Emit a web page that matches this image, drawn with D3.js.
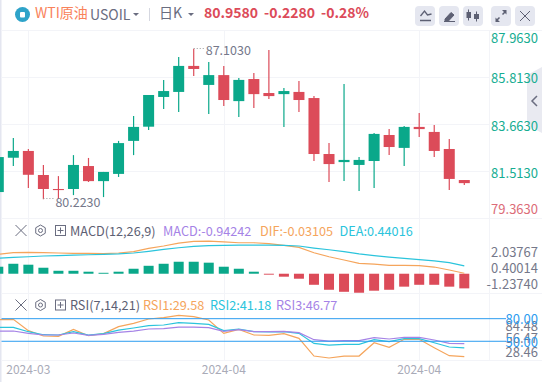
<!DOCTYPE html>
<html><head><meta charset="utf-8">
<style>html,body{margin:0;padding:0;background:#fff;overflow:hidden}svg{display:block}text{font-family:"Noto Sans CJK SC","Open Sans",sans-serif}</style>
<script src="https://cdn.jsdelivr.net/npm/d3@7/dist/d3.min.js"></script>
</head><body><svg id="c" width="542" height="382"></svg>
<script>
// Candles: open, close, high, low
const opens =[80.55,82.12,82.43,81.33,80.69,80.69,81.74,81.05,81.38,82.89,83.54,84.90,85.13,86.32,85.45,85.90,84.71,85.72,85.08,85.03,85.13,84.85,82.29,81.92,81.79,81.97,83.16,82.57,83.53,83.30,82.52,81.10];
const closes=[82.15,82.43,81.34,80.69,80.64,81.79,81.05,81.47,82.79,83.53,84.99,85.17,86.32,86.18,85.90,84.76,85.68,85.03,84.94,85.17,84.76,82.29,81.83,82.02,82.02,83.21,82.61,83.53,83.43,82.43,81.15,80.958];
const highs =[82.15,83.02,82.52,81.79,81.28,82.24,82.11,81.47,82.89,84.03,84.99,85.68,86.73,87.103,86.50,86.32,85.77,85.996,87.05,85.31,85.63,84.94,82.79,85.49,82.15,83.25,83.43,83.57,84.17,83.62,82.98,81.10];
const lows  =[80.55,81.74,80.74,80.223,80.23,80.41,81.01,80.32,81.24,82.24,83.39,84.35,84.21,85.86,84.12,84.49,83.98,84.39,84.81,83.53,84.21,81.97,81.01,81.05,80.60,80.74,82.24,81.74,83.07,82.15,80.64,80.87];
const macdBars=[0.45,0.64,0.58,0.385,0.19,0.19,0.13,0.06,0.13,0.32,0.51,0.64,0.77,0.77,0.71,0.45,0.32,0.13,-0.06,-0.19,-0.32,-0.71,-1.03,-1.16,-1.22,-1.09,-1.03,-0.83,-0.71,-0.71,-0.83,-0.94];
const dif=[1.24,1.35,1.37,1.35,1.33,1.31,1.31,1.29,1.33,1.42,1.63,1.78,1.97,2.08,2.10,2.04,1.99,1.99,1.93,1.82,1.69,1.35,1.09,0.88,0.67,0.62,0.54,0.54,0.52,0.43,0.24,0.03];
const dea=[0.99,1.05,1.09,1.14,1.16,1.20,1.22,1.24,1.27,1.33,1.44,1.56,1.67,1.76,1.80,1.82,1.84,1.84,1.84,1.82,1.78,1.65,1.54,1.42,1.27,1.16,1.07,0.99,0.90,0.82,0.71,0.50];
const rsi1=[78.7,79.1,64.1,57.0,56.5,65.8,57.4,60.1,69.4,73.8,79.6,81.3,84.4,82.7,78.2,60.5,65.8,58.3,57.9,60.1,53.9,30.4,27.8,30.4,30.4,48.1,41.9,52.6,52.6,41.5,30.9,29.58];
const rsi2=[68.5,68.5,62.7,58.7,58.3,62.7,58.3,60.1,64.9,67.6,70.7,71.6,74.7,73.8,72.5,64.1,66.3,62.7,62.3,62.7,60.5,47.2,45.0,45.9,45.9,52.1,49.5,53.4,53.4,48.1,42.4,41.18];
const rsi3=[63.6,63.6,60.5,58.3,58.3,61.0,57.9,59.2,61.8,63.6,66.3,66.7,68.9,68.9,68.0,63.2,65.4,62.7,62.7,63.2,61.4,52.1,50.3,50.8,50.8,54.8,53.0,55.2,55.2,51.7,47.2,46.77];
const priceTicks=[87.963,85.813,83.663,81.513,79.363];
const macdTicks=[2.03767,0.40014,-1.2374];
const rsiTicks=[84.48,56.47,28.46];
const rsiLevels=[80,50];
const dateTicks=[[2,"2024-03"],[15,"2024-04"],[28,"2024-04"]];

const GREEN="#0aa88a",RED="#dc4b59",GRID="#f3f4f8",ORANGE="#f5a55c",CYAN="#2bc4dc",PURPLE="#a583e6",BLUE="#2c9cf0";
const svg=d3.select("#c");
const n=opens.length;
const x=i=>d3.scaleLinear().domain([0,n-1]).range([-1.7,464.3])(i);
const yP=d3.scaleLinear().domain([87.963,79.363]).range([30,218]);
const yM=d3.scaleLinear().domain([2.03767,-1.2374]).range([242,293]);
const yR=d3.scaleLinear().domain([84.48,28.46]).range([315.3,357.5]);
const bw=11;

// frame and grid
svg.append("rect").attr("x",0).attr("y",0).attr("width",1.5).attr("height",382).attr("fill","#e4e6f0");
const hl=[30,77,124,171,218,293,360];
svg.selectAll(".h").data(hl).join("line").attr("x1",1.5).attr("x2",d=>d==30||d==218||d==293||d==360?542:489.5).attr("y1",d=>d+.5).attr("y2",d=>d+.5).attr("stroke",GRID);
svg.selectAll(".v").data(dateTicks).join("line").attr("x1",d=>Math.round(x(d[0]))+.5).attr("x2",d=>Math.round(x(d[0]))+.5).attr("y1",30).attr("y2",360).attr("stroke",GRID);
svg.append("line").attr("x1",489.5).attr("x2",489.5).attr("y1",30).attr("y2",360).attr("stroke",GRID);

// side tab (behind the axis labels)
svg.append("path").attr("d","M542 67L527 75V125L542 133z").attr("fill","#e9eaf1");
svg.append("path").attr("d","M537 96l-5 5 5 5").attr("fill","none").attr("stroke","#6a6d80").attr("stroke-width",1.5);

// candles
const g=svg.append("g");
const col=i=>closes[i]>=opens[i]?GREEN:RED;
g.selectAll(".w").data(d3.range(n)).join("line").attr("x1",i=>x(i)).attr("x2",i=>x(i)).attr("y1",i=>yP(highs[i])).attr("y2",i=>yP(lows[i])).attr("stroke",col).attr("stroke-width",1.2);
g.selectAll(".b").data(d3.range(n)).join("rect").attr("x",i=>x(i)-bw/2).attr("width",bw).attr("y",i=>yP(Math.max(opens[i],closes[i]))).attr("height",i=>Math.max(1,Math.abs(yP(opens[i])-yP(closes[i])))).attr("fill",col);
// hi/lo annotations
const TXT="#75788a";
const ann=(i,v,dy)=>{const y0=Math.round(yP(v))+.5;
 svg.append("line").attr("x1",x(i)).attr("x2",x(i)+10).attr("y1",y0-1).attr("y2",y0-1).attr("stroke","#999").attr("stroke-dasharray","1,2");
 svg.append("text").attr("x",x(i)+12).attr("y",y0+dy).attr("font-size",12.5).attr("fill",TXT).text(v.toFixed(4));};
ann(13,87.103,5.5);ann(3,80.223,7.5);

// MACD
g.selectAll(".m").data(macdBars).join("rect").attr("x",(d,i)=>x(i)-5).attr("width",10).attr("y",d=>yM(Math.max(0,d))).attr("height",d=>Math.abs(yM(d)-yM(0))).attr("fill",d=>d>=0?GREEN:RED);
const lineOf=(y)=>d3.line().x((d,i)=>x(i)).y(d=>y(d)).curve(d3.curveLinear);
[[dif,ORANGE],[dea,CYAN]].forEach(([a,c])=>svg.append("path").attr("d",lineOf(yM)(a)).attr("fill","none").attr("stroke",c).attr("stroke-width",1.2));

// RSI
[[rsi1,ORANGE],[rsi2,CYAN],[rsi3,PURPLE]].forEach(([a,c])=>svg.append("path").attr("d",lineOf(yR)(a)).attr("fill","none").attr("stroke",c).attr("stroke-width",1.2));
rsiLevels.forEach(v=>svg.append("line").attr("x1",1.5).attr("x2",506).attr("y1",yR(v)).attr("y2",yR(v)).attr("stroke",BLUE).attr("stroke-width",1));

// right labels
const rl=(t,y,c)=>svg.append("text").attr("x",538).attr("y",y).attr("text-anchor","end").attr("font-size",13).attr("dominant-baseline","middle").attr("fill",c).text(t);
const pOff=[9.5,2.5,3.5,3,-7.5];
priceTicks.forEach((v,i)=>rl(v.toFixed(4),yP(v)+pOff[i],i==4?"#dc6c78":"#16ad92"));
const mOff=[11.7,1.7,-7.3];
macdTicks.forEach((v,i)=>rl(v.toFixed(5),yM(v)+mOff[i],TXT));
const rOff=[12.4,3.3,-4.5];
rsiTicks.forEach((v,i)=>rl(v.toFixed(2),yR(v)+rOff[i],TXT));
rsiLevels.forEach(v=>rl(v.toFixed(2),yR(v)+2,BLUE));
// date labels
svg.selectAll(".d").data(dateTicks).join("text").attr("x",d=>x(d[0])).attr("y",374).attr("text-anchor","middle").attr("font-size",12).attr("fill","#a9abb8").text(d=>d[1]);

// header
const t=(s,px,py,size,c,w)=>svg.append("text").attr("x",px).attr("y",py).attr("font-size",size).attr("fill",c).attr("font-weight",w||400).text(s);
svg.append("circle").attr("cx",22.5).attr("cy",14.5).attr("r",7.5).attr("fill","#2ea3c9");
svg.append("rect").attr("x",20).attr("y",12).attr("width",5).attr("height",5.5).attr("rx",1).attr("fill","#fff");
t("WTI原油",35,18,14,"#f9825a");
t("USOIL",90,20,14,"#6a6d80");
svg.append("path").attr("d","M133 13h6l-3 3z").attr("fill","#6a6d80");
svg.append("line").attr("x1",149.5).attr("x2",149.5).attr("y1",8).attr("y2",21).attr("stroke","#d5d7e0");
t("日K",159,18,14,"#6a6d80");
svg.append("path").attr("d","M188 13h6l-3 3z").attr("fill","#6a6d80");
t("80.9580",204,18,14,RED,700);
t("-0.2280",264,18,14,RED,700);
t("-0.28%",321,18,14,RED,700);
[415,439,463,491,515].forEach(bx=>svg.append("rect").attr("x",bx).attr("y",6).attr("width",20).attr("height",20).attr("rx",4).attr("fill","#e5e7f0"));
const ic="#5d6073";
svg.append("path").attr("d","M420.5 16l4-5 3 4 4-1M420 20.5h11").attr("fill","none").attr("stroke",ic).attr("stroke-width",1.3);
svg.append("path").attr("d","M445 19l6-6.5 3 2.5-6 6.5h-3zM444 21.5h11").attr("fill",ic).attr("stroke",ic);
svg.append("path").attr("d","M468.5 9.5v11M476.5 11.5v10").attr("stroke",ic);
svg.append("path").attr("d","M466.5 12h4.5v6h-4.5zM474 14h5v5h-5z").attr("fill",ic);
svg.append("path").attr("d","M496.5 20.5l3-3M505.5 11.5l-3 3").attr("stroke",ic).attr("stroke-width",1.5);
svg.append("path").attr("d","M495.5 17.5v4.5h4.5zM506.5 14.5v-4.5h-4.5z").attr("fill",ic);
svg.append("path").attr("d","M520 11l10 10M530 11l-10 10").attr("stroke",ic);

// pane legends
const legend=(py,name,items)=>{
 svg.append("path").attr("d",`M15.5 ${py-5.5}l11 11M26.5 ${py-5.5}l-11 11`).attr("stroke","#6a6d80").attr("fill","none");
 svg.append("path").attr("d",d3.line()(d3.range(6).map(k=>[40.5+5.5*Math.sin(k*Math.PI/3),py+5.5*Math.cos(k*Math.PI/3)]))+"Z").attr("fill","none").attr("stroke","#6a6d80");
 svg.append("circle").attr("cx",40.5).attr("cy",py).attr("r",2).attr("fill","none").attr("stroke","#6a6d80");
 svg.append("rect").attr("x",55.5).attr("y",py-5).attr("width",10).attr("height",10).attr("fill","none").attr("stroke","#6a6d80");
 svg.append("path").attr("d",`M57.5 ${py}h6M60.5 ${py-3}v6`).attr("stroke","#6a6d80");
 t(name,70,py+5,12.7,"#5d6073");
 items.forEach(([s,px,c])=>t(s,px,py+5,12.7,c));
};
legend(230.5,"MACD(12,26,9)",[["MACD:-0.94242",163,PURPLE],["DIF:-0.03105",260,ORANGE],["DEA:0.44016",339.5,CYAN]]);
legend(305,"RSI(7,14,21)",[["RSI1:29.58",143,ORANGE],["RSI2:41.18",210,CYAN],["RSI3:46.77",276,PURPLE]]);
</script></body></html>
